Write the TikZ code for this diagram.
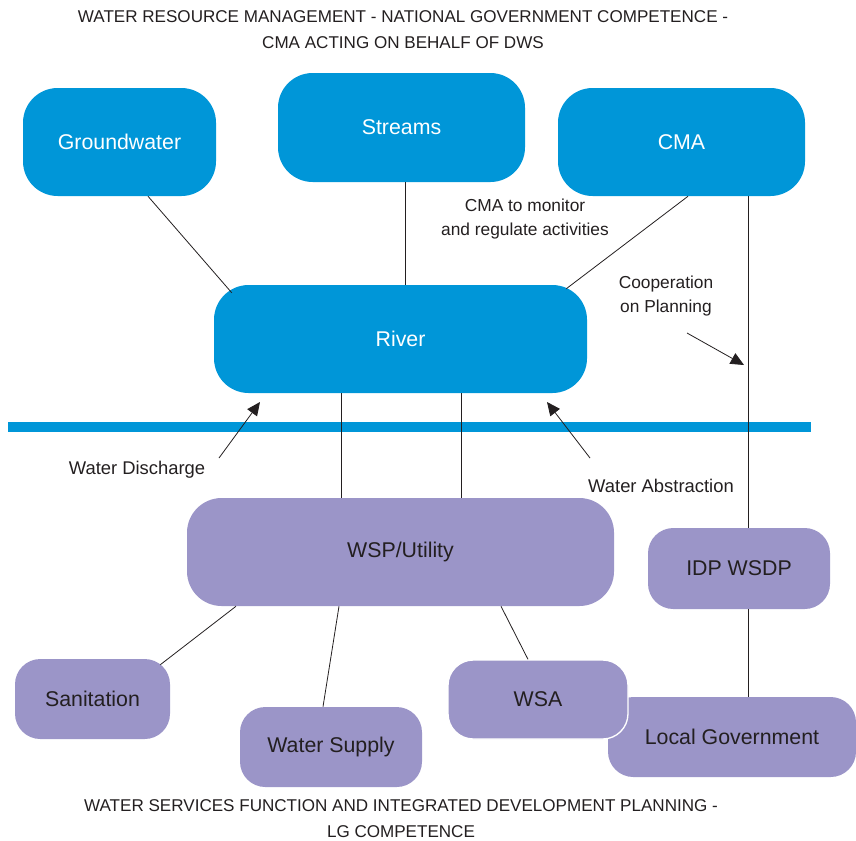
\documentclass[tikz,border=0pt]{standalone}
\usepackage{fontspec}
\setmainfont{Liberation Sans}
\usetikzlibrary{arrows.meta}

\definecolor{riverblue}{RGB}{0,150,216}
\definecolor{lgpurple}{RGB}{155,149,200}
\definecolor{inkdark}{RGB}{35,31,32}

\tikzset{
  wrmbox/.style={fill=riverblue, text=white, rounded corners=26pt, font=\fontsize{16}{18}\selectfont},
  lgbox/.style={fill=lgpurple, text=inkdark, rounded corners=19pt, font=\fontsize{16}{18}\selectfont},
  link/.style={draw=inkdark, line width=0.6pt},
  flow/.style={link, -{Triangle[length=10pt,width=9pt]}},
  note/.style={text=inkdark, font=\fontsize{13}{18}\selectfont, align=center},
  heading/.style={text=inkdark, font=\fontsize{12.8}{19.5}\selectfont, align=center}
}

\begin{document}
\begin{tikzpicture}[x=0.75pt,y=-0.75pt]
\useasboundingbox (0,0) rectangle (856,840);

% headings
\node[heading] (toptitle) at (403,30) {WATER RESOURCE MANAGEMENT - NATIONAL GOVERNMENT COMPETENCE -\\ CMA ACTING ON BEHALF OF DWS};
\node[heading] (bottitle) at (401,819) {WATER SERVICES FUNCTION AND INTEGRATED DEVELOPMENT PLANNING -\\ LG COMPETENCE};

% national level
\node[wrmbox, minimum width=144.75pt, minimum height=81pt] (ground) at (119.5,142) {Groundwater};
\node[wrmbox, minimum width=185.25pt, minimum height=81.75pt] (streams) at (401.5,127.5) {Streams};
\node[wrmbox, minimum width=185.25pt, minimum height=81pt] (cma) at (681.5,142) {CMA};
\node[wrmbox, minimum width=279.75pt, minimum height=81pt] (river) at (400.5,339) {River};

% divide
\draw[riverblue, line width=7.5pt] (8,427) -- (811,427);

% local level
\node[lgbox, rounded corners=26pt, minimum width=320.25pt, minimum height=81pt] (wsp) at (400.5,552) {WSP/Utility};
\node[lgbox, minimum width=136.5pt, minimum height=60.75pt] (idp) at (739,568.5) {IDP WSDP};
\node[lgbox, minimum width=116.25pt, minimum height=60pt] (sanit) at (92.5,699) {Sanitation};
\node[lgbox, minimum width=136.5pt, minimum height=60pt] (supply) at (331,747) {Water Supply};
\node[lgbox, minimum width=186pt, minimum height=60pt] (locgov) at (732,737) {Local Government};
\node[lgbox, draw=white, line width=1pt, minimum width=135pt, minimum height=59.25pt] (wsa) at (538,699.5) {WSA};

% links
\draw[link] (ground.south -| 148,0) -- ([shift={(18,8)}]river.north west);
\draw[link] (streams.south -| 405,0) -- (river.north -| 405,0);
\draw[link] (cma.south -| 688,0) -- ([shift={(-21,4)}]river.north east);
\foreach \x in {341,461}
{	\draw[link] (river.south -| \x,0) -- (wsp.north -| \x,0);
}
\draw[link] (cma.south -| 748,0) -- (idp.north -| 748,0);
\draw[link] (idp.south -| 748,0) -- (locgov.north -| 748,0);
\draw[link] (wsp.south -| 236,0) -- ([shift={(-10,6)}]sanit.north east);
\draw[link] (wsp.south -| 339,0) -- (supply.north -| 323,0);
\draw[link] (wsp.south -| 501,0) -- (wsa.north -| 528,0);

% flows
\coordinate (dischfoot) at (219,458);
\coordinate (abstfoot) at (590,458);
\coordinate (coopfoot) at (687,333);
\coordinate (dischtip) at (260,402);
\coordinate (absttip) at (547,402);
\coordinate (cooptip) at (744,365);
\draw[flow] (dischfoot) -- (dischtip);
\draw[flow] (abstfoot) -- (absttip);
\draw[flow] (coopfoot) -- (cooptip);

% labels
\node[note] (monitor) at (525,219) {CMA to monitor\\ and regulate activities};
\node[note] (coop) at (666,296) {Cooperation\\ on Planning};
\node[note, font=\fontsize{13.8}{16}\selectfont] (disch) at (137,470) {Water Discharge};
\node[note, font=\fontsize{13.8}{16}\selectfont] (abst) at (661,486) {Water Abstraction};
\end{tikzpicture}
\end{document}
